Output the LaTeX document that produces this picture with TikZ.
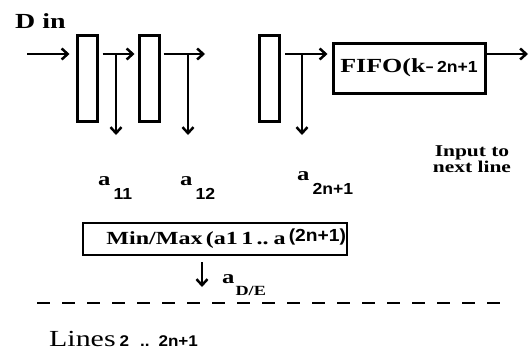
\documentclass[tikz,border=0pt]{standalone}
\usepackage{fontspec}
\setmainfont{Liberation Serif}[FakeStretch=1.3]
\newfontfamily\numfont{Liberation Sans}[FakeStretch=1.1]
\usetikzlibrary{arrows.meta, positioning}

\newcommand{\bigtxt}{\fontsize{21.5}{26}\selectfont\bfseries}
\newcommand{\midtxt}{\fontsize{16.5}{26}\selectfont\bfseries}
\newcommand{\numtxt}{\fontsize{16}{18}\selectfont\numfont\bfseries}
\newcommand{\asub}[1]{{\fontsize{19}{22}\selectfont\bfseries a}\hspace{3pt}\raisebox{-14pt}{\numtxt #1}}

\begin{document}
\begin{tikzpicture}[x=1pt, y=-1pt, >={Straight Barb[length=6pt,width=11pt]},
    reg/.style={draw, line width=3pt, minimum width=20pt, minimum height=86pt, inner sep=0pt},
    flow/.style={->, line width=2.5pt},
    lbl/.style={inner sep=0pt, anchor=base west}]
    \useasboundingbox (0,0) rectangle (530,356);

    % shift registers
    \coordinate (din) at (27,54);
    \node[reg] (r1) at (87,78.5) {};
    \node[reg] (r2) at (149,78.5) {};
    \node[reg] (r3) at (269.5,78) {};
    \node[draw, line width=3pt, minimum width=152pt, minimum height=50pt, inner sep=0pt] (fifo) at (409,68)
        {\fontsize{20}{24}\selectfont\bfseries FIFO(k-\hspace{3pt}\numtxt 2n+1};
    \node[lbl] (dinlbl) at (15,28) {\bigtxt D in};

    \draw[flow, shorten >=6pt] (din) -- (din -| r1.west);
    \draw[flow, shorten <=4pt, shorten >=3pt] (din -| r1.east) -- (din -| r2.west);
    \coordinate (gap) at (205,54);
    \draw[flow, shorten <=3pt] (din -| r2.east) -- (gap);
    \draw[flow, shorten <=4pt, shorten >=4pt] (din -| r3.east) -- (din -| fifo.west);
    \coordinate (out) at (528,54);
    \draw[flow] (din -| fifo.east) -- (out);

    % taps
    \coordinate (t1) at (116,54);
    \coordinate (t2) at (188,54);
    \coordinate (t3) at (302,54);
    \coordinate (tapend) at (0,135);
    \foreach \t in {t1,t2,t3}
        \draw[flow] (\t) -- (\t |- tapend);

    \node[lbl] (a11) at (98,185) {\asub{11}};
    \node[lbl] (a12) at (180,185) {\asub{12}};
    \node[lbl] (a2n) at (297,180) {\asub{2n+1}};
    \node[align=center, inner sep=0pt] (next) at (472,159) {\midtxt Input to\\\midtxt next line};

    % min/max
    \node[draw, line width=2pt, text width=262pt, align=right, inner xsep=1pt, minimum height=32pt] (mm) at (215,239)
        {\fontsize{18.5}{20}\selectfont\bfseries Min/Max (a1 1 .. a\,\raisebox{3pt}{\fontsize{17.5}{18}\selectfont\numfont (2n+1)}};
    \coordinate (aout) at (202,287);
    \draw[flow, shorten <=6pt] (mm.south -| aout) -- (aout);
    \node[lbl] (ade) at (222,283) {{\fontsize{19}{22}\selectfont\bfseries a}\hspace{1pt}\raisebox{-12pt}{\fontsize{14}{16}\selectfont\bfseries D/E}};

    \draw[line width=2pt, dash pattern=on 13pt off 12pt] (37,303) -- (507,303);
    \node[lbl] (lines) at (49,346) {\fontsize{23}{26}\selectfont Lines\hspace{4pt}{\fontsize{15.5}{18}\selectfont\numfont\bfseries 2\hspace{11pt}..\hspace{9pt}2n+1}};
\end{tikzpicture}
\end{document}
